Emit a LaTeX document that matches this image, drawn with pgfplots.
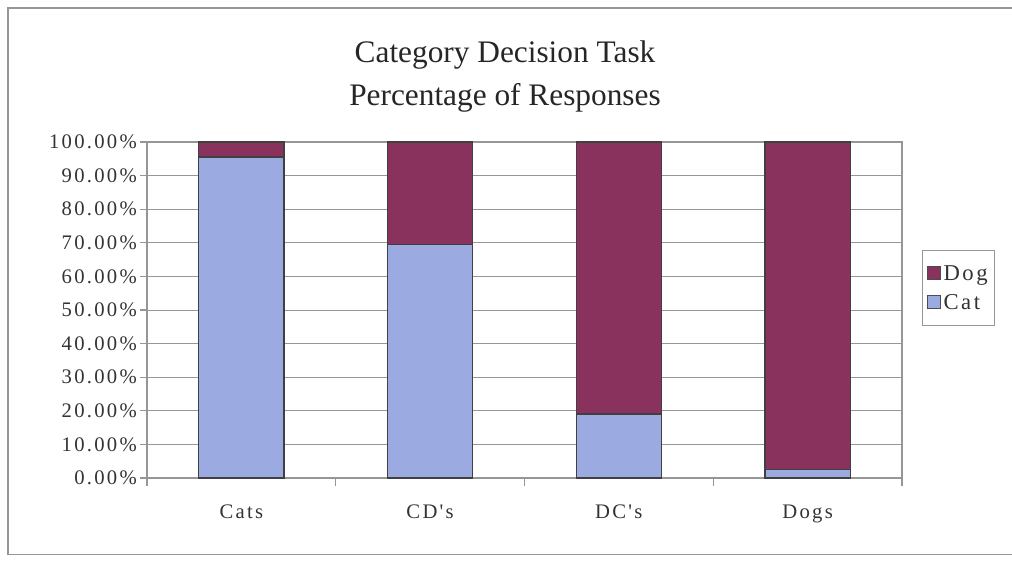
\documentclass[border=0pt]{standalone}
\usepackage{pgfplots}
\pgfplotsset{compat=1.18}
\usepackage{fontspec}
\setmainfont{Liberation Serif}
\newfontfamily\tickfont[LetterSpace=11]{Liberation Serif}
\definecolor{catblue}{RGB}{155,170,225}
\definecolor{dogred}{RGB}{138,50,94}
\definecolor{gridgray}{RGB}{150,150,150}

\begin{document}
\begin{tikzpicture}
% page size: 1012x560 px -> 759x420 pt, axis box at origin
\useasboundingbox (-110.25pt,-61.5pt) rectangle (648.75pt,358.5pt);
% outer chart frame: its right side lies off the page
\draw[gridgray, line width=0.8pt] (648.75pt,352.5pt) -- (-104.25pt,352.5pt)
  -- (-104.25pt,-57.5pt) -- (648.75pt,-57.5pt);

\begin{axis}[
  name=ax,
  anchor=south west, at={(0,0)},
  scale only axis, width=566.25pt, height=252pt,
  ybar stacked, bar width=64pt,
  xmin=-0.5, xmax=3.5, ymin=0, ymax=100,
  xtick={0,1,2,3}, xticklabels={Cats,CD's,DC's,Dogs},
  major x tick style={draw=none},
  minor xtick={-0.5,0.5,1.5,2.5,3.5},
  minor tick length=6pt,
  ytick={0,10,...,100},
  major tick length=5pt,
  tick align=outside,
  xtick pos=bottom, ytick pos=left,
  ymajorgrids, grid style={gridgray, line width=0.6pt},
  axis line style={gridgray, line width=0.8pt},
  tick style={gridgray, line width=0.8pt},
  /pgf/number format/assume math mode=true,
  yticklabel={\pgfmathprintnumber[fixed,fixed zerofill,precision=2]{\tick}\%},
  ticklabel style={font=\tickfont\fontsize{15.5}{18}\selectfont, text=black!80},
  yticklabel style={anchor=east, inner sep=0pt, xshift=-2.5pt},
  xticklabel style={anchor=base, inner sep=0pt, yshift=-25.5pt},
  reverse legend,
  legend style={at={(1,1)}, anchor=north west, xshift=15pt, yshift=-81pt,
    draw=gridgray, line width=0.8pt, font=\tickfont\fontsize{17}{20}\selectfont,
    text=black!80, inner xsep=3pt, inner ysep=9pt, row sep=5pt,
    legend cell align=left},
  legend image code/.code={\draw[#1, draw=black!70, line width=0.8pt] (0pt,-4.5pt) rectangle (10pt,5.5pt);},
]
\addplot[fill=catblue, draw=black!75, line width=1pt] coordinates {(0,95.5) (1,69.5) (2,19) (3,2.5)};
\addplot[fill=dogred, draw=black!75, line width=1pt] coordinates {(0,4.5) (1,30.5) (2,81) (3,97.5)};
\legend{Cat,Dog}
\end{axis}

\node[anchor=base, font=\fontsize{23.5}{28}\selectfont, text=black!85] at (268.5pt,311.25pt) {Category Decision Task};
\node[anchor=base, font=\fontsize{23.5}{28}\selectfont, text=black!85] at (268.5pt,279pt) {Percentage of Responses};
\end{tikzpicture}
\end{document}
